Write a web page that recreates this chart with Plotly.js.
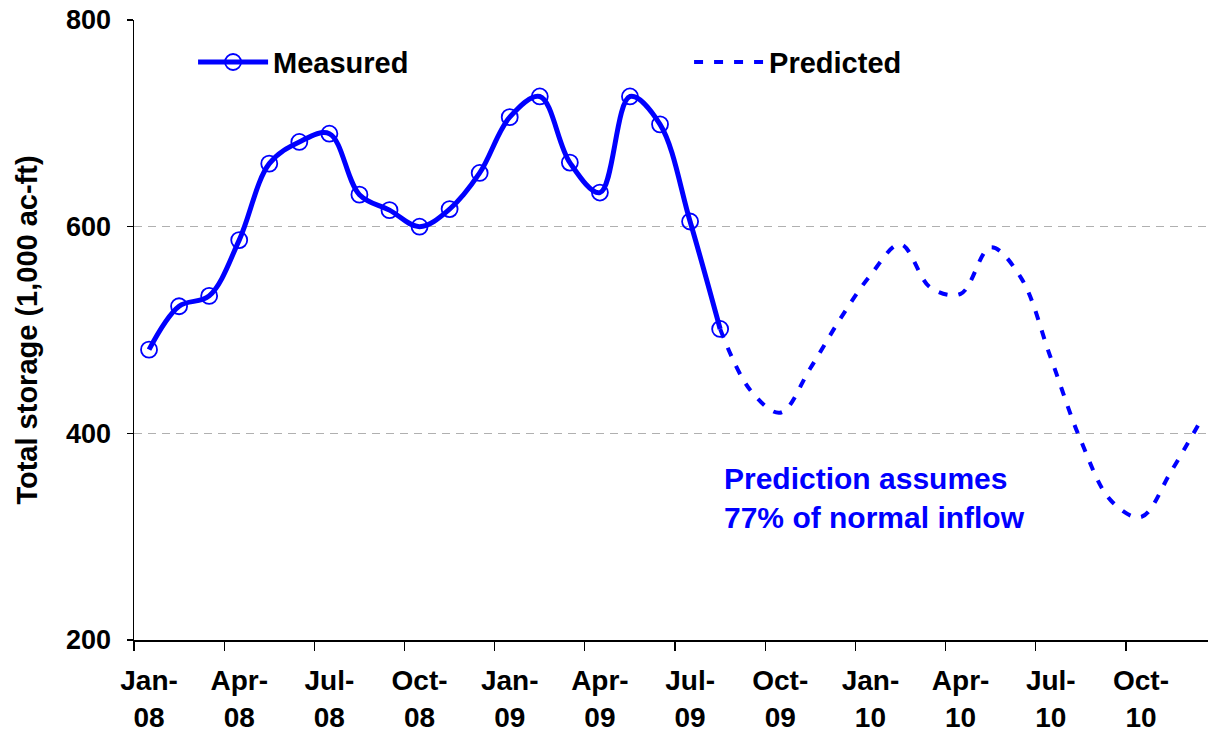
<!DOCTYPE html>
<html><head><meta charset="utf-8">
<script src="https://cdn.plot.ly/plotly-3.0.1.min.js"></script>
<style>html,body{margin:0;padding:0;background:#fff}#chart{width:1208px;height:731px}</style>
</head><body><div id="chart"></div>
<script>
// Month categories (Jan-08 .. Dec-10)
const months = ['Jan-08','Feb-08','Mar-08','Apr-08','May-08','Jun-08','Jul-08','Aug-08','Sep-08','Oct-08','Nov-08','Dec-08',
  'Jan-09','Feb-09','Mar-09','Apr-09','May-09','Jun-09','Jul-09','Aug-09','Sep-09','Oct-09','Nov-09','Dec-09',
  'Jan-10','Feb-10','Mar-10','Apr-10','May-10','Jun-10','Jul-10','Aug-10','Sep-10','Oct-10','Nov-10','Dec-10'];
const tickMonths = ['Jan-08','Apr-08','Jul-08','Oct-08','Jan-09','Apr-09','Jul-09','Oct-09','Jan-10','Apr-10','Jul-10','Oct-10'];
const tickLabels = ['Jan-<br>08','Apr-<br>08','Jul-<br>08','Oct-<br>08','Jan-<br>09','Apr-<br>09','Jul-<br>09','Oct-<br>09','Jan-<br>10','Apr-<br>10','Jul-<br>10','Oct-<br>10'];

// Measured storage (1,000 ac-ft)
const measuredMonths = ['Jan-08','Feb-08','Mar-08','Apr-08','May-08','Jun-08','Jul-08','Aug-08','Sep-08','Oct-08','Nov-08','Dec-08',
  'Jan-09','Feb-09','Mar-09','Apr-09','May-09','Jun-09','Jul-09','Aug-09'];
const measured = [481,523,533,587,661,682,690,631,616,600,617,652,706,726,662,633,726,699,605,501];

// Predicted storage (1,000 ac-ft)
const predictedMonths = ['Aug-09','Sep-09','Oct-09','Nov-09','Dec-09','Jan-10','Feb-10','Mar-10','Apr-10','May-10','Jun-10',
  'Jul-10','Aug-10','Sep-10','Oct-10','Nov-10','Dec-10'];
const predicted = [501,442,420,463,511,553,583,541,535,580,551,473,393,335,319,363,413];

const idx = m => months.indexOf(m);
const FONT = 'Liberation Sans, Arial, Helvetica, sans-serif';
const BLUE = '#0000FF';

const traces = [
  {
    x: measuredMonths.map(idx), y: measured, name: 'Measured', type: 'scatter', mode: 'lines+markers',
    line: {color: BLUE, width: 5, shape: 'spline', smoothing: 1},
    marker: {symbol: 'circle-open', size: 16, color: BLUE, line: {width: 1.8, color: BLUE}}
  },
  {
    x: predictedMonths.map(idx), y: predicted, name: 'Predicted', type: 'scatter', mode: 'lines',
    line: {color: BLUE, width: 4, dash: '9px,11px', shape: 'spline', smoothing: 1}
  }
];

const tickIdx = tickMonths.map(idx);
const boundaries = tickIdx.map(v => v - 0.5);

const layout = {
  width: 1208, height: 731,
  margin: {l: 134, r: 0, t: 20, b: 91},
  paper_bgcolor: '#fff', plot_bgcolor: '#fff',
  font: {family: FONT, color: '#000'},
  showlegend: true,
  legend: {
    orientation: 'h', x: 0.055, xanchor: 'left', y: 0.932, yanchor: 'middle',
    font: {family: FONT, size: 29, weight: 'bold', color: '#000'},
    itemwidth: 70,
    entrywidth: 411, entrywidthmode: 'pixels', bgcolor: 'rgba(0,0,0,0)'
  },
  xaxis: {
    range: [-0.5, 35.23], tickmode: 'array', tickvals: tickIdx, ticktext: tickLabels,
    ticks: '', showgrid: false, zeroline: false,
    showline: true, linecolor: '#000', linewidth: 1.5,
    tickfont: {family: FONT, size: 28, weight: 'bold', color: '#000'},
    ticklabelstandoff: 15,
    minor: {tickmode: 'array', tickvals: boundaries, ticks: 'outside', ticklen: 9, tickcolor: '#000', tickwidth: 1.2, showgrid: false}
  },
  yaxis: {
    range: [200, 800], tickmode: 'array', tickvals: [200, 400, 600, 800],
    ticks: 'outside', ticklen: 6, tickcolor: '#000', tickwidth: 1.2,
    showline: true, linecolor: '#000', linewidth: 1.5, zeroline: false,
    showgrid: true, gridcolor: '#b0b0b0', gridwidth: 1, griddash: '8px,6px',
    tickfont: {family: FONT, size: 27, weight: 'bold', color: '#000'},
    ticklabelstandoff: 10,
    title: {text: 'Total storage (1,000 ac-ft)', font: {family: FONT, size: 29, weight: 'bold', color: '#000'}, standoff: 20}
  },
  annotations: [{
    xref: 'paper', yref: 'paper', x: 0.5475, y: 0.229, xanchor: 'left', yanchor: 'middle', align: 'left',
    text: 'Prediction assumes<br>77% of normal inflow', showarrow: false,
    font: {family: FONT, size: 30, weight: 'bold', color: BLUE}
  }]
};

Plotly.newPlot('chart', traces, layout, {displayModeBar: false, staticPlot: true});
</script>
</body></html>
